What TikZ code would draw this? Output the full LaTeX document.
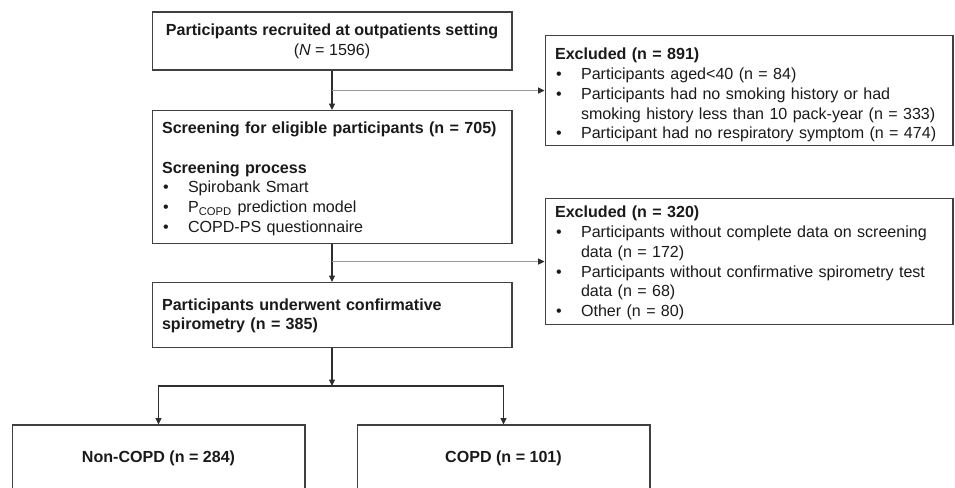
\documentclass[tikz,border=0pt]{standalone}
\usepackage{fontspec}
\setmainfont{Liberation Sans}
\usetikzlibrary{arrows.meta}
\definecolor{boxline}{HTML}{404040}
\definecolor{arrowline}{HTML}{2E2E2E}
\definecolor{branchline}{HTML}{9A9A9A}
\definecolor{txt}{HTML}{1A1A1A}
\newcommand{\bitem}[1]{\par\noindent\hangindent=0.52cm\hangafter=1\makebox[0.52cm][l]{\hspace{0.02cm}\textbullet}#1}
\begin{document}
\begin{tikzpicture}[x=0.02cm,y=-0.02cm,
	box/.style={draw=boxline,line width=0.6pt,text=txt,inner xsep=0.2cm,inner ysep=0pt,font={\fontsize{9.15}{11.3}\selectfont}},
	leftbox/.style={box,align=left,anchor=north,text width=#1},
	arrow/.style={draw=arrowline,line width=0.6pt,-{Triangle[length=3.6pt,width=3.4pt]}},
	branch/.style={draw=branchline,line width=0.6pt,-{Triangle[length=3.6pt,width=3.4pt,color=arrowline]}}]
	\useasboundingbox (0,0) rectangle (955,487);
	\clip (0,0) rectangle (955,487);
	% main column
	\node[box,align=center,minimum width=7.2cm,minimum height=1.16cm] (recruited) at (332,41) {\textbf{Participants recruited at outpatients setting}\\(\textit{N} = 1596)};
	\node[leftbox=6.8cm,text height=0.46cm,text depth=2.2cm] (screening) at (332,110) {\noindent\mbox{\textbf{Screening for eligible participants (n = 705)}}\par\vspace{11.2pt}\noindent\textbf{Screening process}\bitem{Spirobank Smart}\bitem{P\textsubscript{COPD} prediction model}\bitem{COPD-PS questionnaire}};
	\node[leftbox=6.8cm,text height=0.55cm,text depth=0.75cm] (underwent) at (332,282) {\noindent\textbf{Participants underwent confirmative\newline spirometry (n = 385)}};
	% exclusions
	\node[leftbox=7.76cm,text height=0.48cm,text depth=1.72cm] (excl1) at (749,35) {\noindent\textbf{Excluded (n = 891)}\bitem{Participants aged<40 (n = 84)}\bitem{Participants had no smoking history or had\newline smoking history less than 10 pack-year (n = 333)}\bitem{Participant had no respiratory symptom (n = 474)}};
	\node[leftbox=7.76cm,text height=0.38cm,text depth=2.14cm] (excl2) at (749,198) {\noindent\textbf{Excluded (n = 320)}\bitem{Participants without complete data on screening\newline data (n = 172)}\bitem{Participants without confirmative spirometry test\newline data (n = 68)}\bitem{Other (n = 80)}};
	% outcome
	\node[box,minimum width=5.86cm,minimum height=1.32cm] (noncopd) at (158.5,458) {\textbf{Non-COPD (n = 284)}};
	\node[box,minimum width=5.86cm,minimum height=1.32cm] (copd) at (503.5,458) {\textbf{COPD (n = 101)}};
	\coordinate (split) at (332,386);
	% connectors
	\draw[arrow] (recruited) -- (screening);
	\draw[branch] (recruited.south |- excl1.west) -- (excl1.west);
	\draw[arrow] (screening) -- (underwent);
	\draw[branch] (screening.south |- excl2.west) -- (excl2.west);
	\draw[arrow] (underwent.south) -- (split);
	\draw[arrow] (split) -| (noncopd.north);
	\draw[arrow] (split) -| (copd.north);
\end{tikzpicture}
\end{document}
